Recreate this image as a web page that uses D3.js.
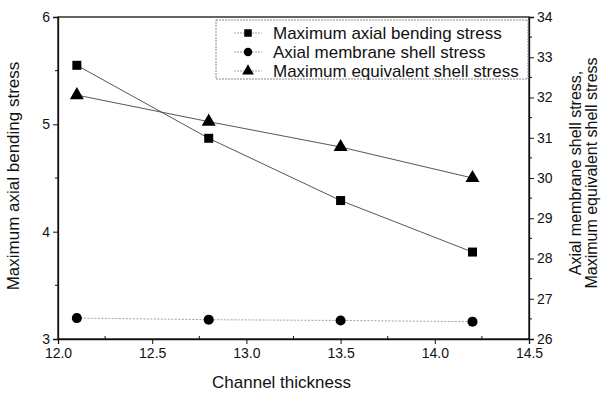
<!DOCTYPE html>
<html>
<head>
<meta charset="utf-8">
<script src="https://cdn.jsdelivr.net/npm/d3@7"></script>
<style>
  body { margin: 0; background: #fff; }
  svg text { font-family: "Liberation Sans", Arial, sans-serif; fill: #111; }
  .axis path, .axis line { stroke: #111; }
</style>
</head>
<body>
<div class="chart"></div>
<script>
// values
const thickness = [12.1, 12.8, 13.5, 14.2];
const bendingStress = [5.55, 4.87, 4.29, 3.81];      // left axis
const membraneStress = [26.52, 26.48, 26.46, 26.43]; // right axis
const equivalentStress = [32.06, 31.40, 30.77, 30.0]; // right axis
const seriesNames = ["Maximum axial bending stress", "Axial membrane shell stress", "Maximum equivalent shell stress"];
const xTicks = [12.0, 12.5, 13.0, 13.5, 14.0, 14.5];
const leftTicks = [3, 4, 5, 6];
const rightTicks = [26, 27, 28, 29, 30, 31, 32, 33, 34];

const W = 606, H = 394;
const margin = {top: 17, bottom: 55, left: 58, right: 77};
const width = W - margin.left - margin.right,
  height = H - margin.top - margin.bottom;

const svg = d3.select(".chart").append("svg")
  .attr("width", W)
  .attr("height", H)
  .append("g")
  .attr("transform", "translate(" + margin.left + "," + margin.top + ")");

let xScale = d3.scaleLinear().domain([12, 14.5]).range([0, width]);
let yLeft = d3.scaleLinear().domain([3, 6]).range([height, 0]);
let yRight = d3.scaleLinear().domain([26, 34]).range([height, 0]);

// frame
svg.append("rect")
  .attr("width", width).attr("height", height)
  .attr("fill", "none").attr("stroke", "#111").attr("stroke-width", 1.3);

let xAxis = d3.axisBottom(xScale).tickValues(xTicks).tickFormat(d3.format(".1f")).tickSize(5).tickPadding(4);
let gx = svg.append("g").attr("class", "axis x-axis")
  .attr("transform", `translate(0, ${height})`).call(xAxis);
gx.selectAll("line.m").data(d3.range(12.25, 14.5, 0.5)).enter().append("line")
  .attr("x1", d => xScale(d)).attr("x2", d => xScale(d)).attr("y1", 0).attr("y2", -3).attr("stroke", "#111");

let gl = svg.append("g").attr("class", "axis y-axis").call(
  d3.axisLeft(yLeft).tickValues(leftTicks).tickFormat(d3.format("d")).tickSize(5).tickPadding(3));
gl.selectAll("line.m").data([3.5, 4.5, 5.5]).enter().append("line")
  .attr("x1", 0).attr("x2", -3).attr("y1", d => yLeft(d)).attr("y2", d => yLeft(d)).attr("stroke", "#111");

let gr = svg.append("g").attr("class", "axis y-axis-right")
  .attr("transform", `translate(${width}, 0)`).call(
  d3.axisRight(yRight).tickValues(rightTicks).tickFormat(d3.format("d")).tickSize(5).tickPadding(3));
gr.selectAll("line.m").data(d3.range(26.5, 34, 1)).enter().append("line")
  .attr("x1", 0).attr("x2", 3).attr("y1", d => yRight(d)).attr("y2", d => yRight(d)).attr("stroke", "#111");

svg.selectAll(".axis path").attr("stroke-width", 1.3);
svg.selectAll(".axis text").style("font-size", "14px");

// axis titles
svg.append("text")
  .attr("x", width / 2 - 12).attr("y", height + 49)
  .attr("text-anchor", "middle").style("font-size", "17px")
  .text("Channel thickness");

svg.append("text")
  .attr("transform", `translate(${-39}, ${height / 2 - 2}) rotate(-90)`)
  .attr("text-anchor", "middle").style("font-size", "17px")
  .text("Maximum axial bending stress");

svg.append("text")
  .attr("transform", `translate(${width + 52}, ${height / 2 - 5}) rotate(-90)`)
  .attr("text-anchor", "middle").style("font-size", "16px")
  .text("Axial membrane shell stress,");
svg.append("text")
  .attr("transform", `translate(${width + 68}, ${height / 2 - 5}) rotate(-90)`)
  .attr("text-anchor", "middle").style("font-size", "16px")
  .text("Maximum equivalent shell stress");

// series
const series = [
  {name: seriesNames[0], values: bendingStress, y: yLeft, shape: d3.symbolSquare, size: 81, dash: null, stroke: "#444"},
  {name: seriesNames[1], values: membraneStress, y: yRight, shape: d3.symbolCircle, size: 80, dash: "2,1.5", stroke: "#999"},
  {name: seriesNames[2], values: equivalentStress, y: yRight, shape: d3.symbolTriangle, size: 85, dash: null, stroke: "#444"}
];

series.forEach(s => {
  let pts = thickness.map((t, i) => [t, s.values[i]]);
  svg.append("path")
    .datum(pts)
    .attr("fill", "none")
    .attr("stroke", s.stroke)
    .attr("stroke-width", 0.9)
    .attr("stroke-dasharray", s.dash)
    .attr("d", d3.line().x(d => xScale(d[0])).y(d => s.y(d[1])));
  svg.selectAll(null).data(pts).enter().append("path")
    .attr("transform", d => `translate(${xScale(d[0])},${s.y(d[1])})`)
    .attr("d", d3.symbol().type(s.shape).size(s.size))
    .attr("fill", "#000");
});

// legend
let lg = svg.append("g").attr("transform", "translate(158, 3)");
lg.append("rect")
  .attr("width", 312).attr("height", 59)
  .attr("fill", "#fff").attr("stroke", "#888").attr("stroke-dasharray", "2,1");
series.forEach((s, i) => {
  let y = 13 + i * 19;
  lg.append("line").attr("x1", 18).attr("x2", 46).attr("y1", y).attr("y2", y)
    .attr("stroke", "#999").attr("stroke-width", 0.9).attr("stroke-dasharray", "2,1");
  lg.append("path").attr("transform", `translate(32,${y})`)
    .attr("d", d3.symbol().type(s.shape).size(s.size * 0.7)).attr("fill", "#000");
  lg.append("text").attr("x", 57).attr("y", y + 6).style("font-size", "17px").text(s.name);
});
</script>
</body>
</html>
